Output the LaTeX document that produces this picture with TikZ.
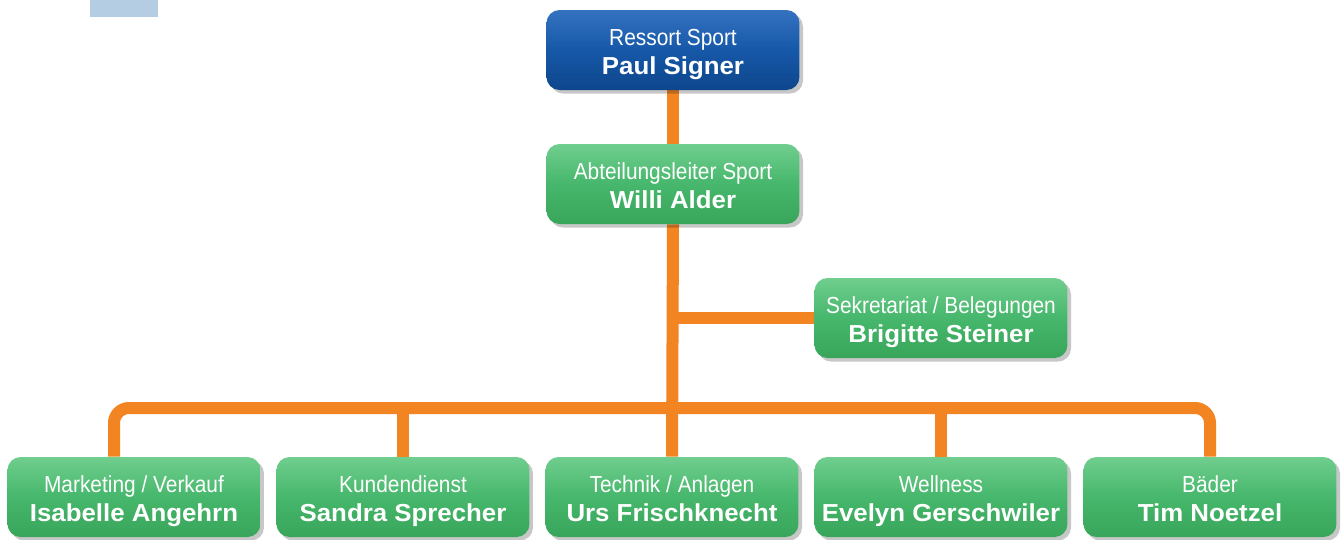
\documentclass[tikz,border=0pt]{standalone}
\usepackage{fontspec}
\setmainfont{Liberation Sans}
\newfontfamily\titlefont[FakeStretch=0.9]{Liberation Sans}
\newfontfamily\namefont[FakeStretch=1.05]{Liberation Sans}
\usetikzlibrary{shadows,backgrounds}

\definecolor{chiefblue}{RGB}{22,88,168}
\definecolor{chiefbluelight}{RGB}{52,114,192}
\definecolor{chiefbluedark}{RGB}{14,70,140}
\definecolor{staffgreen}{RGB}{70,183,108}
\definecolor{staffgreenlight}{RGB}{112,206,142}
\definecolor{staffgreendark}{RGB}{56,165,90}
\definecolor{linkorange}{RGB}{242,133,34}
\definecolor{markblue}{RGB}{180,205,227}

\tikzset{
  unit/.style={rounded corners=0.26cm, minimum width=5.06cm, minimum height=1.6cm,
    inner sep=0pt, align=center, text=white,
    font=\titlefont\fontsize{13.2}{16.5}\selectfont,
    drop shadow={shadow xshift=2pt, shadow yshift=-2pt, opacity=0.22, fill=black}},
  chief/.style={unit, top color=chiefbluelight, bottom color=chiefbluedark, middle color=chiefblue},
  staff/.style={unit, top color=staffgreenlight, bottom color=staffgreendark, middle color=staffgreen},
  link/.style={draw=linkorange, line width=0.24cm}
}
% title line, then the name in bold
\newcommand{\unittext}[2]{\rule{0pt}{15pt}#1\\{\namefont\bfseries\fontsize{14}{16.5}\selectfont #2}\rule[-3.2pt]{0pt}{0pt}}

\begin{document}
\begin{tikzpicture}[x=0.02cm, y=-0.02cm]
  \useasboundingbox (0,0) rectangle (1341,539);
  \fill[markblue] (90,0) rectangle (158,17);

  \node[chief] (ressort) at (673,50) {\unittext{Ressort Sport}{Paul Signer}};
  \node[staff] (leiter) at (673,184) {\unittext{Abteilungsleiter Sport}{Willi Alder}};
  \node[staff] (sekretariat) at (941,318) {\unittext{Sekretariat / Belegungen}{Brigitte Steiner}};

  \node[staff] (marketing) at (134,497) {\unittext{Marketing / Verkauf}{Isabelle Angehrn}};
  \node[staff] (kunden) at (403,497) {\unittext{Kundendienst}{Sandra Sprecher}};
  \node[staff] (technik) at (672,497) {\unittext{Technik / Anlagen}{Urs Frischknecht}};
  \node[staff] (wellness) at (941,497) {\unittext{Wellness}{Evelyn Gerschwiler}};
  \node[staff] (baeder) at (1210,497) {\unittext{B\"ader}{Tim Noetzel}};

  \coordinate (bus) at (672,408);

  \begin{scope}[on background layer]
    \draw[link] (ressort.south) -- (leiter.north);
    \draw[link] (leiter.south) -- (technik.north);
    \draw[link] (sekretariat.west) -- (sekretariat.west -| leiter.south);
    \draw[link, rounded corners=0.3cm]
      ([shift={(-20,0)}]marketing.north) |- (bus) -| (baeder.north);
    \draw[link] (kunden.north) -- (kunden.north |- bus);
    \draw[link] (wellness.north) -- (wellness.north |- bus);
  \end{scope}
\end{tikzpicture}
\end{document}
